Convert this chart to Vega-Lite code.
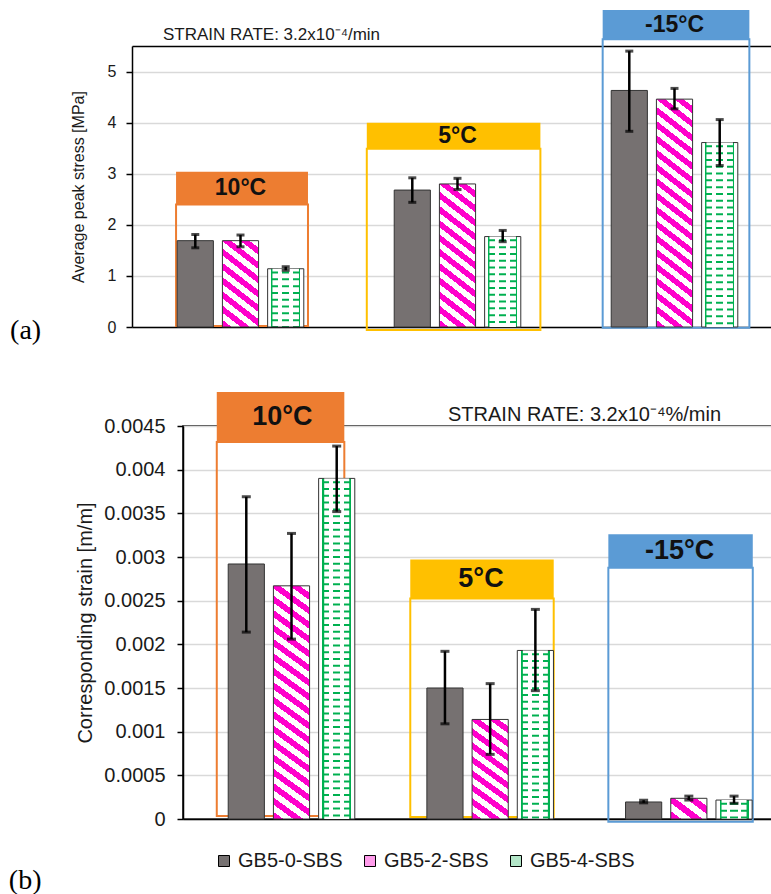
{
  "$schema": "https://vega.github.io/schema/vega-lite/v6.json",
  "background": "white",
  "padding": {"left": 8, "top": 9, "right": 0, "bottom": 0},
  "config": {
    "font": "Liberation Sans",
    "view": {"stroke": "#000", "strokeWidth": 1.5},
    "axis": {"labelColor": "#1a1a1a", "titleColor": "#1a1a1a", "titleFontWeight": "normal", "domainColor": "#000", "domainWidth": 1.5, "tickColor": "#000", "tickWidth": 1.5, "tickSize": 6, "gridColor": "#d9d9d9", "gridWidth": 1.5, "labelFont": "Liberation Sans", "titleFont": "Liberation Sans"},
    "axisY": {"grid": true},
    "axisX": {"grid": false}
  },
  "datasets": {
    "stress": [
      {"temp": "10°C", "mix": "GB5-0-SBS", "value": 1.69, "lo": 1.55, "hi": 1.81},
      {"temp": "10°C", "mix": "GB5-2-SBS", "value": 1.69, "lo": 1.57, "hi": 1.80},
      {"temp": "10°C", "mix": "GB5-4-SBS", "value": 1.14, "lo": 1.11, "hi": 1.18},
      {"temp": "5°C", "mix": "GB5-0-SBS", "value": 2.68, "lo": 2.44, "hi": 2.92},
      {"temp": "5°C", "mix": "GB5-2-SBS", "value": 2.80, "lo": 2.69, "hi": 2.91},
      {"temp": "5°C", "mix": "GB5-4-SBS", "value": 1.77, "lo": 1.67, "hi": 1.89},
      {"temp": "-15°C", "mix": "GB5-0-SBS", "value": 4.63, "lo": 3.83, "hi": 5.40},
      {"temp": "-15°C", "mix": "GB5-2-SBS", "value": 4.46, "lo": 4.27, "hi": 4.67},
      {"temp": "-15°C", "mix": "GB5-4-SBS", "value": 3.61, "lo": 3.16, "hi": 4.06}
    ],
    "strain": [
      {"temp": "10°C", "mix": "GB5-0-SBS", "value": 0.00292, "lo": 0.00214, "hi": 0.00369},
      {"temp": "10°C", "mix": "GB5-2-SBS", "value": 0.00267, "lo": 0.00206, "hi": 0.00327},
      {"temp": "10°C", "mix": "GB5-4-SBS", "value": 0.00390, "lo": 0.00352, "hi": 0.00427},
      {"temp": "5°C", "mix": "GB5-0-SBS", "value": 0.00150, "lo": 0.00109, "hi": 0.00192},
      {"temp": "5°C", "mix": "GB5-2-SBS", "value": 0.00114, "lo": 0.00074, "hi": 0.00155},
      {"temp": "5°C", "mix": "GB5-4-SBS", "value": 0.00193, "lo": 0.00147, "hi": 0.00240},
      {"temp": "-15°C", "mix": "GB5-0-SBS", "value": 0.000195, "lo": 0.000185, "hi": 0.000215},
      {"temp": "-15°C", "mix": "GB5-2-SBS", "value": 0.000237, "lo": 0.000217, "hi": 0.000262},
      {"temp": "-15°C", "mix": "GB5-4-SBS", "value": 0.000217, "lo": 0.00018, "hi": 0.000262}
    ],
    "boxA": [
      {"temp": "10°C", "x0": 0.203, "x1": 0.811, "hdrTop": 3.04, "hdrBot": 2.40, "boxBot": 0.02},
      {"temp": "5°C", "x0": 1.082, "x1": 1.882, "hdrTop": 4.0, "hdrBot": 3.49, "boxBot": -0.059},
      {"temp": "-15°C", "x0": 2.169, "x1": 2.845, "hdrTop": 6.205, "hdrBot": 5.63, "boxBot": -0.013}
    ],
    "boxB": [
      {"temp": "10°C", "x0": 0.170, "x1": 0.812, "hdrTop": 0.004889, "hdrBot": 0.004317, "boxBot": 0.000034},
      {"temp": "5°C", "x0": 1.144, "x1": 1.866, "hdrTop": 0.002971, "hdrBot": 0.002525, "boxBot": 0.000023},
      {"temp": "-15°C", "x0": 2.141, "x1": 2.868, "hdrTop": 0.003261, "hdrBot": 0.002876, "boxBot": -0.000031}
    ]
  },
  "spacing": 45,
  "vconcat": [
    {
      "width": 600,
      "height": 281,
      "view": {"stroke": null},
      "title": {"text": "(a)", "orient": "bottom", "anchor": "start", "frame": "bounds", "font": "Liberation Serif", "fontSize": 28, "fontWeight": "normal", "color": "#000", "offset": -23, "dx": -60},
      "resolve": {"scale": {"x": "independent", "fill": "independent", "stroke": "independent"}},
      "layer": [
        {
          "data": {"name": "boxA"},
          "layer": [
            {
              "mark": {"type": "rect", "filled": false, "strokeWidth": 2},
              "encoding": {
                "x": {"field": "x0", "type": "quantitative", "scale": {"domain": [0, 3], "range": [-51, 600], "nice": false, "zero": false}, "axis": {"orient": "top", "labels": false, "ticks": false, "title": null, "grid": false, "domainWidth": 1.5}},
                "x2": {"field": "x1"},
                "y": {"field": "boxBot", "type": "quantitative", "scale": {"domain": [0, 5.5], "nice": false}, "title": "Average peak stress [MPa]"},
                "y2": {"field": "hdrBot"},
                "stroke": {"field": "temp", "type": "nominal", "scale": {"domain": ["10°C", "5°C", "-15°C"], "range": ["#ed7d31", "#ffc000", "#5b9bd5"]}, "legend": null}
              }
            },
            {
              "mark": {"type": "rect"},
              "encoding": {
                "x": {"field": "x0", "type": "quantitative", "scale": {"domain": [0, 3], "range": [-51, 600], "nice": false, "zero": false}, "axis": {"orient": "top", "labels": false, "ticks": false, "title": null, "grid": false, "domainWidth": 1.5}},
                "x2": {"field": "x1"},
                "y": {"field": "hdrBot", "type": "quantitative", "scale": {"domain": [0, 5.5], "nice": false}, "title": "Average peak stress [MPa]"},
                "y2": {"field": "hdrTop"},
                "fill": {"field": "temp", "type": "nominal", "scale": {"domain": ["10°C", "5°C", "-15°C"], "range": ["#ed7d31", "#ffc000", "#5b9bd5"]}, "legend": null}
              }
            },
            {
              "data": {"values": [{"note": "STRAIN RATE: 3.2x10\u207b\u2074/min"}]},
              "mark": {"type": "text", "align": "left", "baseline": "alphabetic", "fontSize": 17, "color": "#1a1a1a"},
              "encoding": {
                "x": {"datum": 0.143, "type": "quantitative", "scale": {"domain": [0, 3], "range": [-51, 600], "nice": false, "zero": false}, "axis": {"orient": "top", "labels": false, "ticks": false, "title": null, "grid": false, "domainWidth": 1.5}},
                "y": {"datum": 5.617, "type": "quantitative", "title": "Average peak stress [MPa]"},
                "text": {"field": "note"}
              }
            }
          ]
        },
        {
          "data": {"name": "stress"},
          "encoding": {
            "x": {"field": "temp", "type": "nominal", "scale": {"domain": ["10°C", "5°C", "-15°C"], "range": [-51, 600], "paddingInner": 0, "paddingOuter": 0}, "axis": {"labels": false, "ticks": false, "title": null, "domainWidth": 1.5}},
            "xOffset": {"field": "mix", "type": "nominal", "scale": {"domain": ["GB5-0-SBS", "GB5-2-SBS", "GB5-4-SBS"], "paddingInner": 0.2, "paddingOuter": 1.7}}
          },
          "layer": [
            {
              "mark": {"type": "bar", "stroke": "#333", "strokeWidth": 1},
              "encoding": {
                "y": {"field": "value", "type": "quantitative", "scale": {"domain": [0, 5.5], "nice": false}, "title": "Average peak stress [MPa]", "axis": {"values": [0, 1, 2, 3, 4, 5], "format": "d", "offset": 51, "labelFontSize": 16, "titleFontSize": 16, "labelPadding": 10, "titlePadding": 21}},
                "fill": {
                  "field": "mix", "type": "nominal",
                  "scale": {"domain": ["GB5-0-SBS", "GB5-2-SBS", "GB5-4-SBS"], "range": ["#767171", "#ffffff", "#ffffff"]},
                  "legend": null,
                  "condition": [
                    {"test": "datum.mix === 'GB5-2-SBS' && datum.temp === '10°C'", "value": {"gradient": "linear", "x1": 0, "y1": 1, "x2": 0.389, "y2": -0.198, "stops": [
                      {"offset": 0, "color": "#f0c"}, {"offset": 0.0625, "color": "#f0c"}, {"offset": 0.0625, "color": "#fff"}, {"offset": 0.125, "color": "#fff"},
                      {"offset": 0.125, "color": "#f0c"}, {"offset": 0.1875, "color": "#f0c"}, {"offset": 0.1875, "color": "#fff"}, {"offset": 0.25, "color": "#fff"},
                      {"offset": 0.25, "color": "#f0c"}, {"offset": 0.3125, "color": "#f0c"}, {"offset": 0.3125, "color": "#fff"}, {"offset": 0.375, "color": "#fff"},
                      {"offset": 0.375, "color": "#f0c"}, {"offset": 0.4375, "color": "#f0c"}, {"offset": 0.4375, "color": "#fff"}, {"offset": 0.5, "color": "#fff"},
                      {"offset": 0.5, "color": "#f0c"}, {"offset": 0.5625, "color": "#f0c"}, {"offset": 0.5625, "color": "#fff"}, {"offset": 0.625, "color": "#fff"},
                      {"offset": 0.625, "color": "#f0c"}, {"offset": 0.6875, "color": "#f0c"}, {"offset": 0.6875, "color": "#fff"}, {"offset": 0.75, "color": "#fff"},
                      {"offset": 0.75, "color": "#f0c"}, {"offset": 0.8125, "color": "#f0c"}, {"offset": 0.8125, "color": "#fff"}, {"offset": 0.875, "color": "#fff"},
                      {"offset": 0.875, "color": "#f0c"}, {"offset": 0.9375, "color": "#f0c"}, {"offset": 0.9375, "color": "#fff"}, {"offset": 1, "color": "#fff"}
                    ]}},
                    {"test": "datum.mix === 'GB5-2-SBS' && datum.temp === '5°C'", "value": {"gradient": "linear", "x1": 0, "y1": 1, "x2": 0.2254, "y2": -0.1517, "stops": [
                      {"offset": 0, "color": "#f0c"}, {"offset": 0.0417, "color": "#f0c"}, {"offset": 0.0417, "color": "#fff"}, {"offset": 0.0833, "color": "#fff"},
                      {"offset": 0.0833, "color": "#f0c"}, {"offset": 0.125, "color": "#f0c"}, {"offset": 0.125, "color": "#fff"}, {"offset": 0.1667, "color": "#fff"},
                      {"offset": 0.1667, "color": "#f0c"}, {"offset": 0.2083, "color": "#f0c"}, {"offset": 0.2083, "color": "#fff"}, {"offset": 0.25, "color": "#fff"},
                      {"offset": 0.25, "color": "#f0c"}, {"offset": 0.2917, "color": "#f0c"}, {"offset": 0.2917, "color": "#fff"}, {"offset": 0.3333, "color": "#fff"},
                      {"offset": 0.3333, "color": "#f0c"}, {"offset": 0.375, "color": "#f0c"}, {"offset": 0.375, "color": "#fff"}, {"offset": 0.4167, "color": "#fff"},
                      {"offset": 0.4167, "color": "#f0c"}, {"offset": 0.4583, "color": "#f0c"}, {"offset": 0.4583, "color": "#fff"}, {"offset": 0.5, "color": "#fff"},
                      {"offset": 0.5, "color": "#f0c"}, {"offset": 0.5417, "color": "#f0c"}, {"offset": 0.5417, "color": "#fff"}, {"offset": 0.5833, "color": "#fff"},
                      {"offset": 0.5833, "color": "#f0c"}, {"offset": 0.625, "color": "#f0c"}, {"offset": 0.625, "color": "#fff"}, {"offset": 0.6667, "color": "#fff"},
                      {"offset": 0.6667, "color": "#f0c"}, {"offset": 0.7083, "color": "#f0c"}, {"offset": 0.7083, "color": "#fff"}, {"offset": 0.75, "color": "#fff"},
                      {"offset": 0.75, "color": "#f0c"}, {"offset": 0.7917, "color": "#f0c"}, {"offset": 0.7917, "color": "#fff"}, {"offset": 0.8333, "color": "#fff"},
                      {"offset": 0.8333, "color": "#f0c"}, {"offset": 0.875, "color": "#f0c"}, {"offset": 0.875, "color": "#fff"}, {"offset": 0.9167, "color": "#fff"},
                      {"offset": 0.9167, "color": "#f0c"}, {"offset": 0.9583, "color": "#f0c"}, {"offset": 0.9583, "color": "#fff"}, {"offset": 1, "color": "#fff"}
                    ]}},
                    {"test": "datum.mix === 'GB5-2-SBS' && datum.temp === '-15°C'", "value": {"gradient": "linear", "x1": 0, "y1": 1, "x2": 0.1359, "y2": -0.1062, "stops": [
                      {"offset": 0, "color": "#f0c"}, {"offset": 0.0278, "color": "#f0c"}, {"offset": 0.0278, "color": "#fff"}, {"offset": 0.0556, "color": "#fff"},
                      {"offset": 0.0556, "color": "#f0c"}, {"offset": 0.0833, "color": "#f0c"}, {"offset": 0.0833, "color": "#fff"}, {"offset": 0.1111, "color": "#fff"},
                      {"offset": 0.1111, "color": "#f0c"}, {"offset": 0.1389, "color": "#f0c"}, {"offset": 0.1389, "color": "#fff"}, {"offset": 0.1667, "color": "#fff"},
                      {"offset": 0.1667, "color": "#f0c"}, {"offset": 0.1944, "color": "#f0c"}, {"offset": 0.1944, "color": "#fff"}, {"offset": 0.2222, "color": "#fff"},
                      {"offset": 0.2222, "color": "#f0c"}, {"offset": 0.25, "color": "#f0c"}, {"offset": 0.25, "color": "#fff"}, {"offset": 0.2778, "color": "#fff"},
                      {"offset": 0.2778, "color": "#f0c"}, {"offset": 0.3056, "color": "#f0c"}, {"offset": 0.3056, "color": "#fff"}, {"offset": 0.3333, "color": "#fff"},
                      {"offset": 0.3333, "color": "#f0c"}, {"offset": 0.3611, "color": "#f0c"}, {"offset": 0.3611, "color": "#fff"}, {"offset": 0.3889, "color": "#fff"},
                      {"offset": 0.3889, "color": "#f0c"}, {"offset": 0.4167, "color": "#f0c"}, {"offset": 0.4167, "color": "#fff"}, {"offset": 0.4444, "color": "#fff"},
                      {"offset": 0.4444, "color": "#f0c"}, {"offset": 0.4722, "color": "#f0c"}, {"offset": 0.4722, "color": "#fff"}, {"offset": 0.5, "color": "#fff"},
                      {"offset": 0.5, "color": "#f0c"}, {"offset": 0.5278, "color": "#f0c"}, {"offset": 0.5278, "color": "#fff"}, {"offset": 0.5556, "color": "#fff"},
                      {"offset": 0.5556, "color": "#f0c"}, {"offset": 0.5833, "color": "#f0c"}, {"offset": 0.5833, "color": "#fff"}, {"offset": 0.6111, "color": "#fff"},
                      {"offset": 0.6111, "color": "#f0c"}, {"offset": 0.6389, "color": "#f0c"}, {"offset": 0.6389, "color": "#fff"}, {"offset": 0.6667, "color": "#fff"},
                      {"offset": 0.6667, "color": "#f0c"}, {"offset": 0.6944, "color": "#f0c"}, {"offset": 0.6944, "color": "#fff"}, {"offset": 0.7222, "color": "#fff"},
                      {"offset": 0.7222, "color": "#f0c"}, {"offset": 0.75, "color": "#f0c"}, {"offset": 0.75, "color": "#fff"}, {"offset": 0.7778, "color": "#fff"},
                      {"offset": 0.7778, "color": "#f0c"}, {"offset": 0.8056, "color": "#f0c"}, {"offset": 0.8056, "color": "#fff"}, {"offset": 0.8333, "color": "#fff"},
                      {"offset": 0.8333, "color": "#f0c"}, {"offset": 0.8611, "color": "#f0c"}, {"offset": 0.8611, "color": "#fff"}, {"offset": 0.8889, "color": "#fff"},
                      {"offset": 0.8889, "color": "#f0c"}, {"offset": 0.9167, "color": "#f0c"}, {"offset": 0.9167, "color": "#fff"}, {"offset": 0.9444, "color": "#fff"},
                      {"offset": 0.9444, "color": "#f0c"}, {"offset": 0.9722, "color": "#f0c"}, {"offset": 0.9722, "color": "#fff"}, {"offset": 1, "color": "#fff"}
                    ]}},
                    {"test": "datum.mix === 'GB5-4-SBS'", "value": {"gradient": "linear", "x1": 0, "y1": 0, "x2": 1, "y2": 0, "stops": [
                      {"offset": 0, "color": "#fff"}, {"offset": 0.1, "color": "#fff"}, {"offset": 0.1, "color": "#00b050"}, {"offset": 0.3, "color": "#00b050"},
                      {"offset": 0.3, "color": "#fff"}, {"offset": 0.4, "color": "#fff"}, {"offset": 0.4, "color": "#00b050"}, {"offset": 0.6, "color": "#00b050"},
                      {"offset": 0.6, "color": "#fff"}, {"offset": 0.7, "color": "#fff"}, {"offset": 0.7, "color": "#00b050"}, {"offset": 0.9, "color": "#00b050"},
                      {"offset": 0.9, "color": "#fff"}, {"offset": 1, "color": "#fff"}
                    ]}}
                  ]
                }
              }
            },
            {
              "transform": [{"filter": "datum.mix === 'GB5-4-SBS'"}],
              "mark": {"type": "rule", "color": "#fff", "strokeWidth": 26.5, "strokeDash": [4.8, 2], "strokeDashOffset": 2, "strokeCap": "butt"},
              "encoding": {"y": {"field": "value", "type": "quantitative", "title": "Average peak stress [MPa]"}, "y2": {"datum": 0}}
            },
            {
              "mark": {"type": "rule", "color": "#000", "strokeWidth": 2.5},
              "encoding": {"y": {"field": "lo", "type": "quantitative", "title": "Average peak stress [MPa]"}, "y2": {"field": "hi"}}
            },
            {
              "mark": {"type": "tick", "color": "#000", "thickness": 3, "size": 8},
              "encoding": {"y": {"field": "lo", "type": "quantitative", "title": "Average peak stress [MPa]"}}
            },
            {
              "mark": {"type": "tick", "color": "#000", "thickness": 3, "size": 8},
              "encoding": {"y": {"field": "hi", "type": "quantitative", "title": "Average peak stress [MPa]"}}
            }
          ]
        },
        {
          "data": {"name": "boxA"},
          "transform": [{"fold": ["hdrTop", "hdrBot"], "as": ["k", "v"]}, {"aggregate": [{"op": "mean", "field": "v", "as": "mid"}], "groupby": ["temp"]}],
          "mark": {"type": "text", "fontSize": 23, "fontWeight": "bold", "baseline": "middle", "color": "#111"},
          "encoding": {
            "x": {"field": "temp", "type": "nominal", "scale": {"domain": ["10°C", "5°C", "-15°C"], "range": [-51, 600], "paddingInner": 0, "paddingOuter": 0}, "axis": null},
            "y": {"field": "mid", "type": "quantitative", "title": "Average peak stress [MPa]"},
            "text": {"field": "temp"}
          }
        }
      ]
    },
    {
      "width": 596,
      "height": 393,
      "title": {"text": "(b)", "orient": "bottom", "anchor": "start", "frame": "bounds", "font": "Liberation Serif", "fontSize": 28, "fontWeight": "normal", "color": "#000", "offset": -4, "dx": -67},
      "resolve": {"scale": {"x": "independent", "fill": "independent", "stroke": "independent"}},
      "layer": [
        {
          "data": {"name": "boxB"},
          "layer": [
            {
              "mark": {"type": "rect", "filled": false, "strokeWidth": 2},
              "encoding": {
                "x": {"field": "x0", "type": "quantitative", "scale": {"domain": [0, 3], "nice": false, "zero": false}, "axis": null},
                "x2": {"field": "x1"},
                "y": {"field": "boxBot", "type": "quantitative", "scale": {"domain": [0, 0.0045], "nice": false}, "title": "Corresponding  strain [m/m]"},
                "y2": {"field": "hdrBot"},
                "stroke": {"field": "temp", "type": "nominal", "scale": {"domain": ["10°C", "5°C", "-15°C"], "range": ["#ed7d31", "#ffc000", "#5b9bd5"]}, "legend": null}
              }
            },
            {
              "mark": {"type": "rect"},
              "encoding": {
                "x": {"field": "x0", "type": "quantitative", "scale": {"domain": [0, 3], "nice": false, "zero": false}, "axis": null},
                "x2": {"field": "x1"},
                "y": {"field": "hdrBot", "type": "quantitative", "scale": {"domain": [0, 0.0045], "nice": false}, "title": "Corresponding  strain [m/m]"},
                "y2": {"field": "hdrTop"},
                "fill": {"field": "temp", "type": "nominal", "scale": {"domain": ["10°C", "5°C", "-15°C"], "range": ["#ed7d31", "#ffc000", "#5b9bd5"]}, "legend": null}
              }
            },
            {
              "data": {"values": [{"note": "STRAIN RATE: 3.2x10\u207b\u2074%/min"}]},
              "mark": {"type": "text", "align": "left", "baseline": "alphabetic", "fontSize": 20, "color": "#1a1a1a"},
              "encoding": {
                "x": {"datum": 1.334, "type": "quantitative", "scale": {"domain": [0, 3], "nice": false, "zero": false}, "axis": null},
                "y": {"datum": 0.00456, "type": "quantitative", "title": "Corresponding  strain [m/m]"},
                "text": {"field": "note"}
              }
            }
          ]
        },
        {
          "data": {"name": "strain"},
          "encoding": {
            "x": {"field": "temp", "type": "nominal", "scale": {"domain": ["10°C", "5°C", "-15°C"], "paddingInner": 0, "paddingOuter": 0}, "axis": {"labels": false, "ticks": false, "title": null, "domainWidth": 1.5}},
            "xOffset": {"field": "mix", "type": "nominal", "scale": {"domain": ["GB5-0-SBS", "GB5-2-SBS", "GB5-4-SBS"], "paddingInner": 0.186, "paddingOuter": 1.67}}
          },
          "layer": [
            {
              "mark": {"type": "bar", "stroke": "#333", "strokeWidth": 1},
              "encoding": {
                "y": {"field": "value", "type": "quantitative", "scale": {"domain": [0, 0.0045], "nice": false}, "title": "Corresponding  strain [m/m]", "axis": {"values": [0, 0.0005, 0.001, 0.0015, 0.002, 0.0025, 0.003, 0.0035, 0.004, 0.0045], "format": "~g", "labelFontSize": 20, "titleFontSize": 20, "labelPadding": 12, "titlePadding": 8}},
                "fill": {
                  "field": "mix", "type": "nominal",
                  "scale": {"domain": ["GB5-0-SBS", "GB5-2-SBS", "GB5-4-SBS"], "range": ["#767171", "#ff9ceb", "#b3e6c8"]},
                  "legend": {
                    "orient": "none", "legendX": 31, "legendY": 425, "direction": "horizontal", "title": null, "padding": 0,
                    "symbolType": "square", "symbolSize": 121, "symbolStrokeColor": "#000", "symbolStrokeWidth": 1,
                    "labelFontSize": 20, "labelFont": "Liberation Sans", "labelColor": "#1a1a1a", "labelOffset": 4, "columnPadding": 17
                  },
                  "condition": [
                    {"test": "datum.mix === 'GB5-2-SBS' && datum.temp === '10°C'", "value": {"gradient": "linear", "x1": 0, "y1": 1, "x2": 0.1237, "y2": -0.0988, "stops": [
                      {"offset": 0, "color": "#f0c"}, {"offset": 0.0278, "color": "#f0c"}, {"offset": 0.0278, "color": "#fff"}, {"offset": 0.0556, "color": "#fff"},
                      {"offset": 0.0556, "color": "#f0c"}, {"offset": 0.0833, "color": "#f0c"}, {"offset": 0.0833, "color": "#fff"}, {"offset": 0.1111, "color": "#fff"},
                      {"offset": 0.1111, "color": "#f0c"}, {"offset": 0.1389, "color": "#f0c"}, {"offset": 0.1389, "color": "#fff"}, {"offset": 0.1667, "color": "#fff"},
                      {"offset": 0.1667, "color": "#f0c"}, {"offset": 0.1944, "color": "#f0c"}, {"offset": 0.1944, "color": "#fff"}, {"offset": 0.2222, "color": "#fff"},
                      {"offset": 0.2222, "color": "#f0c"}, {"offset": 0.25, "color": "#f0c"}, {"offset": 0.25, "color": "#fff"}, {"offset": 0.2778, "color": "#fff"},
                      {"offset": 0.2778, "color": "#f0c"}, {"offset": 0.3056, "color": "#f0c"}, {"offset": 0.3056, "color": "#fff"}, {"offset": 0.3333, "color": "#fff"},
                      {"offset": 0.3333, "color": "#f0c"}, {"offset": 0.3611, "color": "#f0c"}, {"offset": 0.3611, "color": "#fff"}, {"offset": 0.3889, "color": "#fff"},
                      {"offset": 0.3889, "color": "#f0c"}, {"offset": 0.4167, "color": "#f0c"}, {"offset": 0.4167, "color": "#fff"}, {"offset": 0.4444, "color": "#fff"},
                      {"offset": 0.4444, "color": "#f0c"}, {"offset": 0.4722, "color": "#f0c"}, {"offset": 0.4722, "color": "#fff"}, {"offset": 0.5, "color": "#fff"},
                      {"offset": 0.5, "color": "#f0c"}, {"offset": 0.5278, "color": "#f0c"}, {"offset": 0.5278, "color": "#fff"}, {"offset": 0.5556, "color": "#fff"},
                      {"offset": 0.5556, "color": "#f0c"}, {"offset": 0.5833, "color": "#f0c"}, {"offset": 0.5833, "color": "#fff"}, {"offset": 0.6111, "color": "#fff"},
                      {"offset": 0.6111, "color": "#f0c"}, {"offset": 0.6389, "color": "#f0c"}, {"offset": 0.6389, "color": "#fff"}, {"offset": 0.6667, "color": "#fff"},
                      {"offset": 0.6667, "color": "#f0c"}, {"offset": 0.6944, "color": "#f0c"}, {"offset": 0.6944, "color": "#fff"}, {"offset": 0.7222, "color": "#fff"},
                      {"offset": 0.7222, "color": "#f0c"}, {"offset": 0.75, "color": "#f0c"}, {"offset": 0.75, "color": "#fff"}, {"offset": 0.7778, "color": "#fff"},
                      {"offset": 0.7778, "color": "#f0c"}, {"offset": 0.8056, "color": "#f0c"}, {"offset": 0.8056, "color": "#fff"}, {"offset": 0.8333, "color": "#fff"},
                      {"offset": 0.8333, "color": "#f0c"}, {"offset": 0.8611, "color": "#f0c"}, {"offset": 0.8611, "color": "#fff"}, {"offset": 0.8889, "color": "#fff"},
                      {"offset": 0.8889, "color": "#f0c"}, {"offset": 0.9167, "color": "#f0c"}, {"offset": 0.9167, "color": "#fff"}, {"offset": 0.9444, "color": "#fff"},
                      {"offset": 0.9444, "color": "#f0c"}, {"offset": 0.9722, "color": "#f0c"}, {"offset": 0.9722, "color": "#fff"}, {"offset": 1, "color": "#fff"}
                    ]}},
                    {"test": "datum.mix === 'GB5-2-SBS' && datum.temp === '5°C'", "value": {"gradient": "linear", "x1": 0, "y1": 1, "x2": 0.3105, "y2": -0.1814, "stops": [
                      {"offset": 0, "color": "#f0c"}, {"offset": 0.0556, "color": "#f0c"}, {"offset": 0.0556, "color": "#fff"}, {"offset": 0.1111, "color": "#fff"},
                      {"offset": 0.1111, "color": "#f0c"}, {"offset": 0.1667, "color": "#f0c"}, {"offset": 0.1667, "color": "#fff"}, {"offset": 0.2222, "color": "#fff"},
                      {"offset": 0.2222, "color": "#f0c"}, {"offset": 0.2778, "color": "#f0c"}, {"offset": 0.2778, "color": "#fff"}, {"offset": 0.3333, "color": "#fff"},
                      {"offset": 0.3333, "color": "#f0c"}, {"offset": 0.3889, "color": "#f0c"}, {"offset": 0.3889, "color": "#fff"}, {"offset": 0.4444, "color": "#fff"},
                      {"offset": 0.4444, "color": "#f0c"}, {"offset": 0.5, "color": "#f0c"}, {"offset": 0.5, "color": "#fff"}, {"offset": 0.5556, "color": "#fff"},
                      {"offset": 0.5556, "color": "#f0c"}, {"offset": 0.6111, "color": "#f0c"}, {"offset": 0.6111, "color": "#fff"}, {"offset": 0.6667, "color": "#fff"},
                      {"offset": 0.6667, "color": "#f0c"}, {"offset": 0.7222, "color": "#f0c"}, {"offset": 0.7222, "color": "#fff"}, {"offset": 0.7778, "color": "#fff"},
                      {"offset": 0.7778, "color": "#f0c"}, {"offset": 0.8333, "color": "#f0c"}, {"offset": 0.8333, "color": "#fff"}, {"offset": 0.8889, "color": "#fff"},
                      {"offset": 0.8889, "color": "#f0c"}, {"offset": 0.9444, "color": "#f0c"}, {"offset": 0.9444, "color": "#fff"}, {"offset": 1, "color": "#fff"}
                    ]}},
                    {"test": "datum.mix === 'GB5-2-SBS' && datum.temp === '-15°C'", "value": {"gradient": "linear", "x1": 0, "y1": 1, "x2": 1.11, "y2": 0.1425, "stops": [
                      {"offset": 0, "color": "#f0c"}, {"offset": 0.1667, "color": "#f0c"}, {"offset": 0.1667, "color": "#fff"}, {"offset": 0.3333, "color": "#fff"},
                      {"offset": 0.3333, "color": "#f0c"}, {"offset": 0.5, "color": "#f0c"}, {"offset": 0.5, "color": "#fff"}, {"offset": 0.6667, "color": "#fff"},
                      {"offset": 0.6667, "color": "#f0c"}, {"offset": 0.8333, "color": "#f0c"}, {"offset": 0.8333, "color": "#fff"}, {"offset": 1, "color": "#fff"}
                    ]}},
                    {"test": "datum.mix === 'GB5-4-SBS'", "value": {"gradient": "linear", "x1": 0, "y1": 0, "x2": 1, "y2": 0, "stops": [
                      {"offset": 0, "color": "#fff"}, {"offset": 0.1, "color": "#fff"}, {"offset": 0.1, "color": "#00b050"}, {"offset": 0.3, "color": "#00b050"},
                      {"offset": 0.3, "color": "#fff"}, {"offset": 0.4, "color": "#fff"}, {"offset": 0.4, "color": "#00b050"}, {"offset": 0.6, "color": "#00b050"},
                      {"offset": 0.6, "color": "#fff"}, {"offset": 0.7, "color": "#fff"}, {"offset": 0.7, "color": "#00b050"}, {"offset": 0.9, "color": "#00b050"},
                      {"offset": 0.9, "color": "#fff"}, {"offset": 1, "color": "#fff"}
                    ]}}
                  ]
                }
              }
            },
            {
              "transform": [{"filter": "datum.mix === 'GB5-4-SBS'"}],
              "mark": {"type": "rule", "color": "#fff", "strokeWidth": 25, "strokeDash": [4.8, 2], "strokeDashOffset": 2, "strokeCap": "butt"},
              "encoding": {"y": {"field": "value", "type": "quantitative", "title": "Corresponding  strain [m/m]"}, "y2": {"datum": 0}}
            },
            {
              "mark": {"type": "rule", "color": "#000", "strokeWidth": 2.5},
              "encoding": {"y": {"field": "lo", "type": "quantitative", "title": "Corresponding  strain [m/m]"}, "y2": {"field": "hi"}}
            },
            {
              "mark": {"type": "tick", "color": "#000", "thickness": 3, "size": 9},
              "encoding": {"y": {"field": "lo", "type": "quantitative", "title": "Corresponding  strain [m/m]"}}
            },
            {
              "mark": {"type": "tick", "color": "#000", "thickness": 3, "size": 9},
              "encoding": {"y": {"field": "hi", "type": "quantitative", "title": "Corresponding  strain [m/m]"}}
            }
          ]
        },
        {
          "data": {"name": "boxB"},
          "transform": [{"fold": ["hdrTop", "hdrBot"], "as": ["k", "v"]}, {"aggregate": [{"op": "mean", "field": "v", "as": "mid"}], "groupby": ["temp"]}],
          "mark": {"type": "text", "fontSize": 27, "fontWeight": "bold", "baseline": "middle", "color": "#111"},
          "encoding": {
            "x": {"field": "temp", "type": "nominal", "scale": {"domain": ["10°C", "5°C", "-15°C"], "paddingInner": 0, "paddingOuter": 0}, "axis": null},
            "y": {"field": "mid", "type": "quantitative", "title": "Corresponding  strain [m/m]"},
            "text": {"field": "temp"}
          }
        }
      ]
    }
  ]
}
